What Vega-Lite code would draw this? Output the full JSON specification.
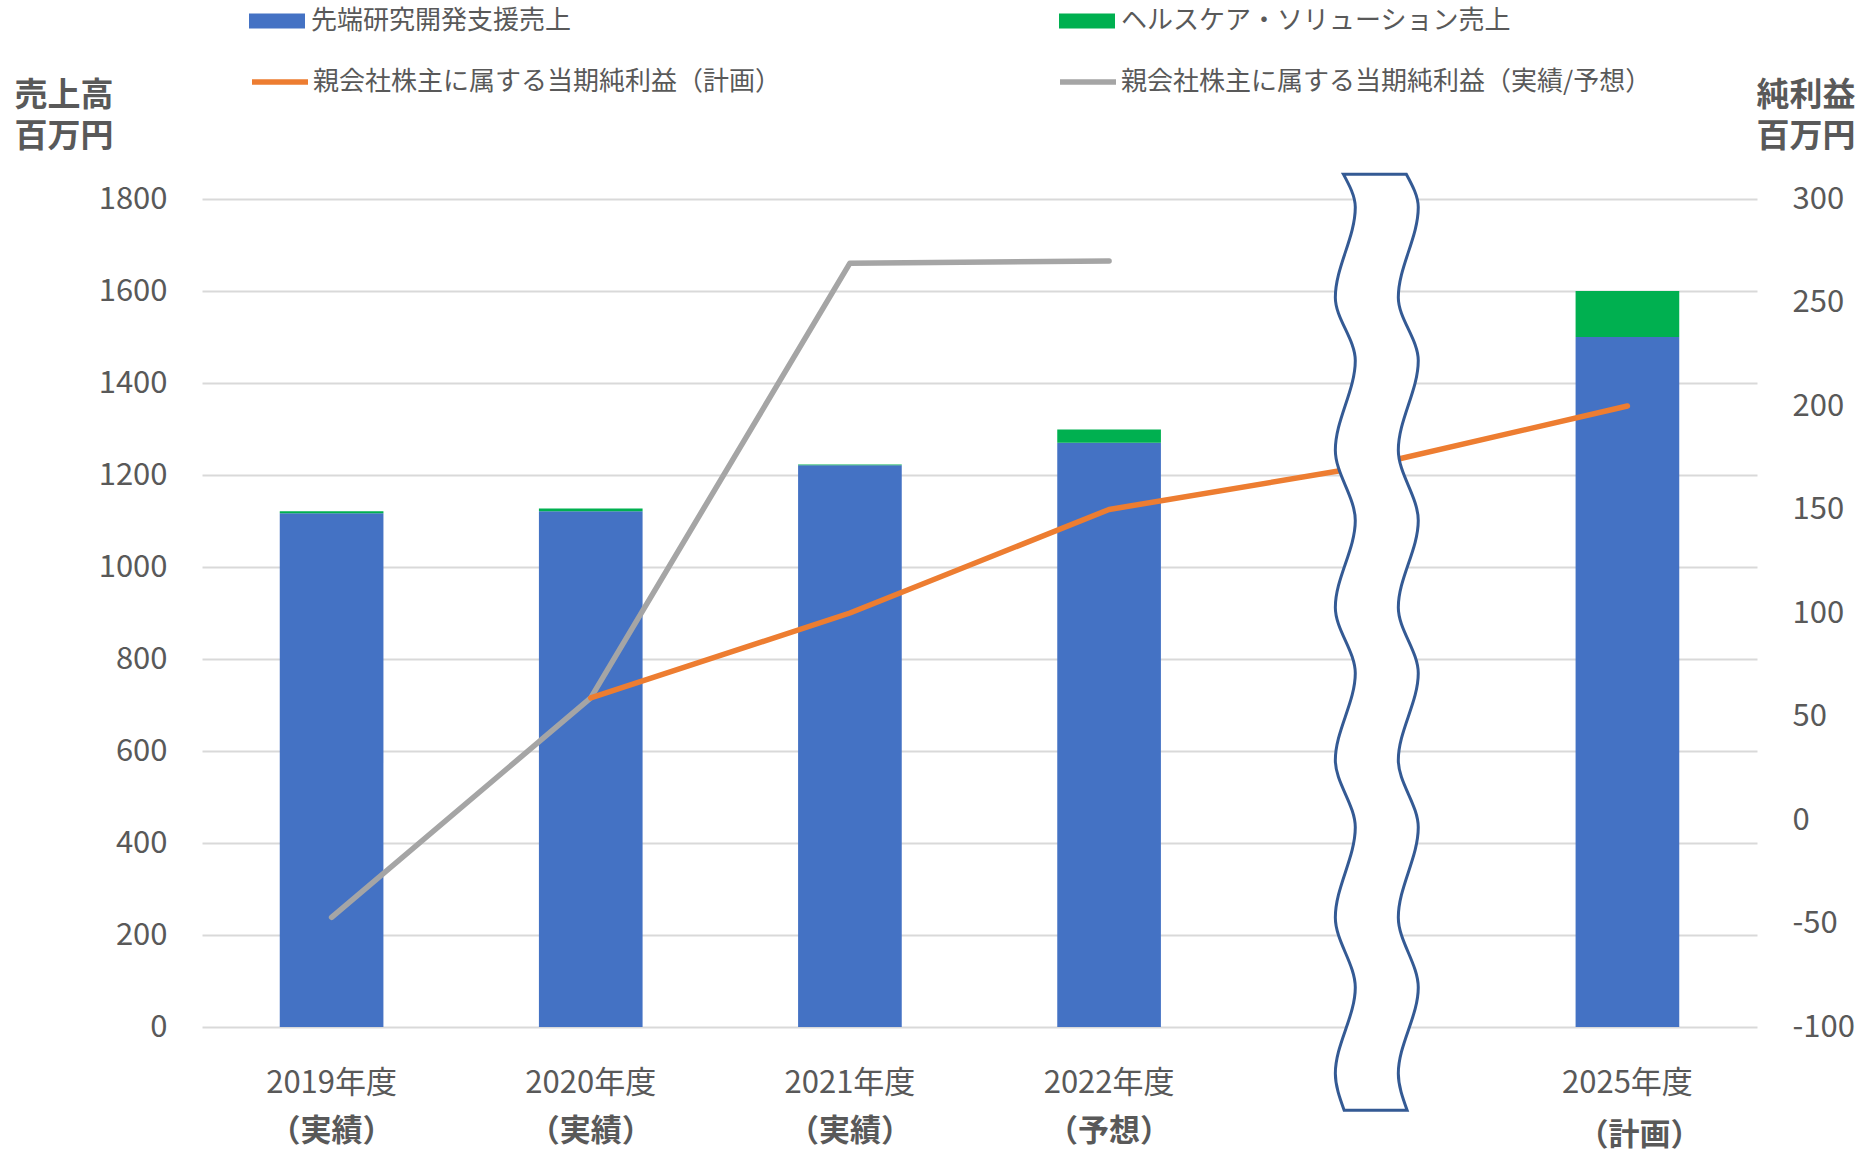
{
  "$schema": "https://vega.github.io/schema/vega-lite/v6.json",
  "autosize": "none",
  "width": 1555,
  "height": 828,
  "padding": {"left": 202, "top": 199, "right": 119, "bottom": 126},
  "background": "white",
  "config": {
    "view": {"stroke": null},
    "font": "Noto Sans CJK JP",
    "axis": {
      "domain": false,
      "ticks": false,
      "tickSize": 0,
      "labelColor": "#595959",
      "labelFont": "Noto Sans CJK JP",
      "titleFont": "Noto Sans CJK JP",
      "titleColor": "#595959",
      "gridColor": "#d9d9d9",
      "gridWidth": 2,
      "labelLimit": 1000
    },
    "legend": {
      "labelFont": "Noto Sans CJK JP",
      "labelColor": "#595959",
      "labelLimit": 1000,
      "padding": 0
    }
  },
  "datasets": {
    "sales": [
      {"fy": "2019年度", "series": "先端研究開発支援売上", "sales": 1117},
      {"fy": "2019年度", "series": "ヘルスケア・ソリューション売上", "sales": 4},
      {"fy": "2020年度", "series": "先端研究開発支援売上", "sales": 1121},
      {"fy": "2020年度", "series": "ヘルスケア・ソリューション売上", "sales": 6},
      {"fy": "2021年度", "series": "先端研究開発支援売上", "sales": 1221},
      {"fy": "2021年度", "series": "ヘルスケア・ソリューション売上", "sales": 2},
      {"fy": "2022年度", "series": "先端研究開発支援売上", "sales": 1270},
      {"fy": "2022年度", "series": "ヘルスケア・ソリューション売上", "sales": 29},
      {"fy": "2025年度", "series": "先端研究開発支援売上", "sales": 1500},
      {"fy": "2025年度", "series": "ヘルスケア・ソリューション売上", "sales": 100}
    ],
    "profit": [
      {"fy": "2019年度", "series": "親会社株主に属する当期純利益（実績/予想）", "profit": -47},
      {"fy": "2020年度", "series": "親会社株主に属する当期純利益（実績/予想）", "profit": 59},
      {"fy": "2021年度", "series": "親会社株主に属する当期純利益（実績/予想）", "profit": 269},
      {"fy": "2022年度", "series": "親会社株主に属する当期純利益（実績/予想）", "profit": 270},
      {"fy": "2020年度", "series": "親会社株主に属する当期純利益（計画）", "profit": 59},
      {"fy": "2021年度", "series": "親会社株主に属する当期純利益（計画）", "profit": 100},
      {"fy": "2022年度", "series": "親会社株主に属する当期純利益（計画）", "profit": 150},
      {"fy": "gap", "series": "親会社株主に属する当期純利益（計画）", "profit": 171},
      {"fy": "2025年度", "series": "親会社株主に属する当期純利益（計画）", "profit": 200}
    ],
    "wave": [
      {"y": 1854, "xl": 4.404, "xr": 4.647},
      {"y": 1782, "xl": 4.45, "xr": 4.693},
      {"y": 1586, "xl": 4.373, "xr": 4.616},
      {"y": 1449, "xl": 4.45, "xr": 4.693},
      {"y": 1254, "xl": 4.373, "xr": 4.616},
      {"y": 1101, "xl": 4.45, "xr": 4.693},
      {"y": 912, "xl": 4.373, "xr": 4.616},
      {"y": 769, "xl": 4.45, "xr": 4.693},
      {"y": 580, "xl": 4.373, "xr": 4.616},
      {"y": 434, "xl": 4.45, "xr": 4.693},
      {"y": 238, "xl": 4.373, "xr": 4.616},
      {"y": 86, "xl": 4.45, "xr": 4.693},
      {"y": -101, "xl": 4.373, "xr": 4.616},
      {"y": -181, "xl": 4.407, "xr": 4.65}
    ]
  },
  "layer": [
    {
      "layer": [
        {
          "data": {"name": "sales"},
          "mark": {"type": "bar"},
          "encoding": {
            "x": {
              "field": "fy",
              "type": "nominal",
              "scale": {
                "domain": ["2019年度", "2020年度", "2021年度", "2022年度", "gap", "2025年度"],
                "paddingInner": 0.6,
                "paddingOuter": 0.3
              },
              "axis": {
                "orient": "bottom",
                "title": null,
                "grid": false,
                "labelAngle": 0,
                "labelFontSize": 31,
                "labelBaseline": "middle",
                "labelPadding": 56,
                "labelExpr": "datum.value == 'gap' ? '' : datum.value"
              }
            },
            "y": {
              "field": "sales",
              "type": "quantitative",
              "stack": "zero",
              "scale": {"domain": [0, 1800], "nice": false},
              "axis": {
                "orient": "left",
                "values": [0, 200, 400, 600, 800, 1000, 1200, 1400, 1600, 1800],
                "labelExpr": "'' + datum.value",
                "grid": true,
                "labelFontSize": 31,
                "labelPadding": 35,
                "title": ["売上高", "百万円"],
                "titleAngle": 0,
                "titleAlign": "left",
                "titleBaseline": "alphabetic",
                "titleFontSize": 33,
                "titleFontWeight": "bold",
                "titleLineHeight": 41,
                "titleX": -188,
                "titleY": -94
              }
            },
            "color": {
              "field": "series",
              "type": "nominal",
              "scale": {
                "domain": ["先端研究開発支援売上", "ヘルスケア・ソリューション売上"],
                "range": ["#4472c4", "#00b050"]
              },
              "legend": {
                "orient": "none",
                "legendX": 47,
                "legendY": -206,
                "direction": "horizontal",
                "columns": 2,
                "columnPadding": 487,
                "title": null,
                "symbolType": "M-1,-0.27H1V0.27H-1Z",
                "symbolSize": 3136,
                "symbolStrokeWidth": 0,
                "labelFontSize": 26,
                "labelOffset": 6
              }
            },
            "order": {"field": "series", "sort": "descending"}
          }
        },
        {
          "data": {"name": "profit"},
          "mark": {"type": "line", "strokeWidth": 5.5, "strokeCap": "round", "strokeJoin": "round"},
          "encoding": {
            "x": {
              "field": "fy",
              "type": "nominal",
              "axis": {
                "orient": "bottom",
                "title": null,
                "grid": false,
                "labelAngle": 0,
                "labelFontSize": 31,
                "labelFontWeight": "bold",
                "labelBaseline": "middle",
                "labelPadding": {"condition": {"test": "datum.value == '2025年度'", "value": 108}, "value": 104},
                "labelOffset": {"condition": {"test": "datum.value == '2025年度'", "value": 12}, "value": 0},
                "labelExpr": "datum.value == 'gap' ? '' : datum.value == '2022年度' ? '（予想）' : datum.value == '2025年度' ? '（計画）' : '（実績）'"
              }
            },
            "y": {
              "field": "profit",
              "type": "quantitative",
              "scale": {"domain": [-100, 300], "nice": false, "zero": false},
              "axis": {
                "orient": "right",
                "values": [-100, -50, 0, 50, 100, 150, 200, 250, 300],
                "labelExpr": "'' + datum.value",
                "grid": false,
                "labelFontSize": 31,
                "labelPadding": 35,
                "title": ["純利益", "百万円"],
                "titleAngle": 0,
                "titleAlign": "left",
                "titleBaseline": "alphabetic",
                "titleFontSize": 33,
                "titleFontWeight": "bold",
                "titleLineHeight": 41,
                "titleX": -1,
                "titleY": -94
              }
            },
            "stroke": {
              "field": "series",
              "type": "nominal",
              "scale": {
                "domain": ["親会社株主に属する当期純利益（計画）", "親会社株主に属する当期純利益（実績/予想）"],
                "range": ["#ed7d31", "#a5a5a5"]
              },
              "legend": {
                "orient": "none",
                "legendX": 47,
                "legendY": -148,
                "direction": "horizontal",
                "columns": 2,
                "columnPadding": 267,
                "title": null,
                "symbolType": "stroke",
                "symbolSize": 3136,
                "symbolStrokeWidth": 5.5,
                "labelFontSize": 26,
                "labelOffset": 2
              }
            }
          }
        }
      ],
      "resolve": {"scale": {"y": "independent"}, "axis": {"x": "independent"}}
    },
    {
      "data": {"name": "wave"},
      "mark": {"type": "area", "orient": "horizontal", "interpolate": "monotone", "fill": "white", "stroke": "#345a94", "strokeWidth": 3},
      "encoding": {
        "y": {"field": "y", "type": "quantitative", "scale": {"domain": [0, 1800], "nice": false}, "axis": null},
        "x": {"field": "xl", "type": "quantitative", "scale": {"domain": [0, 6], "nice": false, "zero": false}, "axis": null},
        "x2": {"field": "xr"}
      }
    }
  ],
  "resolve": {"scale": {"x": "independent", "y": "independent"}}
}
